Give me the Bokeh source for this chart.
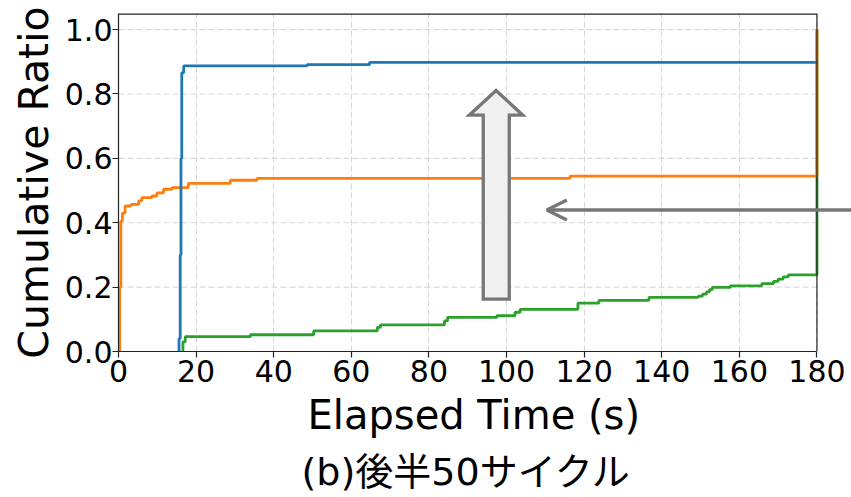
from bokeh.plotting import figure
from bokeh.models import Range1d, FixedTicker, NumeralTickFormatter, Arrow, OpenHead, Title
from bokeh.embed import file_html
from bokeh.resources import INLINE

# ---- data (step events: value holds from x until next x) ----
blue_x = [15.3, 15.6, 15.9, 16.1, 16.3, 16.8, 48.6, 64.7, 180.0]
blue_y = [0.0, 0.04, 0.30, 0.60, 0.866, 0.887, 0.891, 0.898, 0.898]

orange_x = [0.0, 0.3, 0.6, 1.0, 1.7, 3.2, 5.2, 6.0, 8.6, 9.9, 11.6, 13.8, 18.0, 28.8, 35.7, 116.4, 180.0]
orange_y = [0.0, 0.20, 0.405, 0.43, 0.452, 0.457, 0.468, 0.478, 0.483, 0.493, 0.504, 0.509, 0.522, 0.532, 0.538, 0.545, 1.0]

green_x = [16.3, 16.6, 17.2, 34.0, 50.3, 66.7, 67.5, 84.0, 84.8, 97.5, 102.2, 103.5, 118.4, 123.8, 136.7,
           149.4, 150.5, 151.5, 152.3, 153.0, 157.7, 165.8, 168.8, 170.0, 171.3, 172.6, 180.0]
green_y = [0.0, 0.03, 0.046, 0.052, 0.064, 0.075, 0.083, 0.095, 0.106, 0.111, 0.122, 0.131, 0.150, 0.159, 0.168,
           0.172, 0.178, 0.185, 0.192, 0.199, 0.204, 0.211, 0.218, 0.225, 0.232, 0.238, 1.0]

x_ticks = [0, 20, 40, 60, 80, 100, 120, 140, 160, 180]
y_ticks = [0.0, 0.2, 0.4, 0.6, 0.8, 1.0]
X_MAX = 180.0
Y_MAX = 1.05

# annotation shapes (data units)
up_arrow_x = [94.0, 100.7, 100.7, 104.2, 97.3, 90.4, 94.0]
up_arrow_y = [0.1625, 0.1625, 0.734, 0.734, 0.811, 0.734, 0.734]
left_arrow = dict(x_start=195.0, x_end=110.4, y=0.4395)

SPINE = "#222222"
GRID = "#d9d9d9"

# frame extends past x=180 so the left-pointing arrow can reach the page edge
p = figure(frame_width=733, frame_height=338,
           x_range=Range1d(0, 188.9), y_range=Range1d(0, Y_MAX),
           output_backend="svg", toolbar_location=None,
           min_border_left=118, min_border_right=0, min_border_top=13, min_border_bottom=2,
           background_fill_color="white", border_fill_color="white")
p.outline_line_color = None

# horizontal grid lines (only inside 0..180)
p.segment(x0=[0] * len(y_ticks), y0=y_ticks, x1=[X_MAX] * len(y_ticks), y1=y_ticks,
          line_color=GRID, line_width=1.2, line_dash="6 3")

p.step(green_x, green_y, mode="after", line_color="#2ca02c", line_width=2.8)
p.step(orange_x, orange_y, mode="after", line_color="#ff7f0e", line_width=2.8)
p.step(blue_x, blue_y, mode="after", line_color="#1f77b4", line_width=2.8)

# top and right spines
p.segment(x0=[0, X_MAX], y0=[Y_MAX, 0], x1=[X_MAX, X_MAX], y1=[Y_MAX, Y_MAX],
          line_color=SPINE, line_width=[2.4, 1.2])

p.patch(up_arrow_x, up_arrow_y, fill_color="#f0f0f0", line_color="#777777",
        line_width=3.3, line_join="miter")
p.add_layout(Arrow(end=OpenHead(size=20, line_color="#777777", line_width=3.3),
                   x_start=left_arrow["x_start"], y_start=left_arrow["y"],
                   x_end=left_arrow["x_end"], y_end=left_arrow["y"],
                   line_color="#777777", line_width=3.3))

# axes
p.xaxis.ticker = FixedTicker(ticks=x_ticks)
p.yaxis.ticker = FixedTicker(ticks=y_ticks)
p.yaxis.formatter = NumeralTickFormatter(format="0.0")
p.xaxis.bounds = (0, X_MAX)
for ax in (p.xaxis, p.yaxis):
    ax.major_label_text_font = "DejaVu Sans"
    ax.major_label_text_font_size = "30px"
    ax.major_label_text_color = "black"
    ax.axis_label_text_font = "DejaVu Sans"
    ax.axis_label_text_font_style = "normal"
    ax.axis_label_text_color = "black"
    ax.axis_line_color = SPINE
    ax.axis_line_width = 1.2
    ax.major_tick_line_color = SPINE
    ax.major_tick_line_width = 1.2
    ax.major_tick_out = 6
    ax.major_tick_in = 0
    ax.minor_tick_line_color = None
p.yaxis.axis_label = "Cumulative Ratio"
p.yaxis.axis_label_text_font_size = "41px"
p.xaxis.major_label_standoff = 2
p.yaxis.major_label_standoff = 0
p.yaxis.axis_label_standoff = 4

p.xgrid.grid_line_color = GRID
p.xgrid.grid_line_width = 1.2
p.xgrid.grid_line_dash = "6 3"
p.ygrid.grid_line_color = None

# x-axis label (placed under the 0..180 axis, not centred on the widened frame)
p.add_layout(Title(text="Elapsed Time (s)", align="left", offset=189,
                   text_font="DejaVu Sans", text_font_size="40px", text_font_style="normal",
                   text_color="black", standoff=10), "below")
p.add_layout(Title(text="(b)後半50サイクル", align="left", offset=183,
                   text_font="DejaVu Sans, Noto Sans CJK JP", text_font_size="38px",
                   text_font_style="normal", text_color="black", standoff=10), "below")

open("out.html", "w").write(file_html(p, INLINE))
